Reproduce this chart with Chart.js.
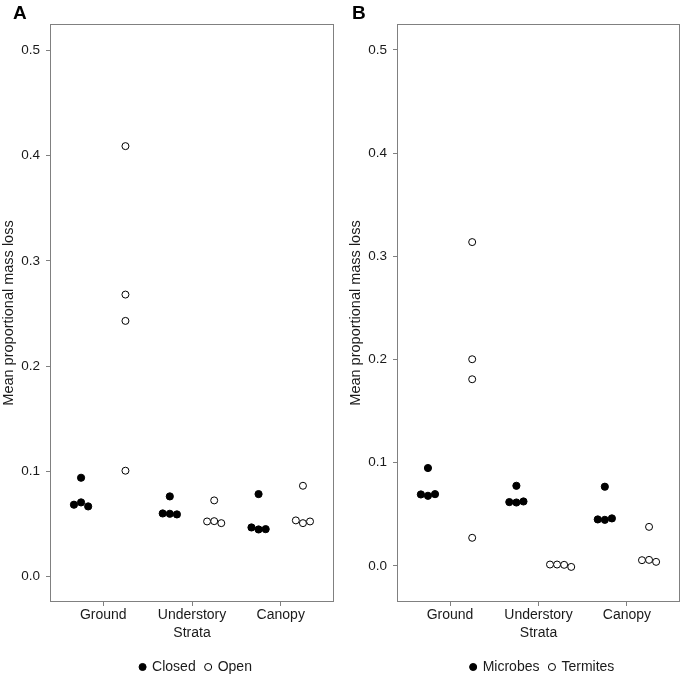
<!DOCTYPE html>
<html>
<head>
    <title>Mean proportional mass loss by strata</title>
    <script src="https://cdn.jsdelivr.net/npm/chart.js@4.4.1/dist/chart.umd.min.js"></script>
    <style>
        html, body { margin: 0; padding: 0; background: #fff; overflow: hidden; }
        .panel { position: absolute; top: 0; height: 684px; }
        #panelA { left: 0; width: 342px; }
        #panelB { left: 342px; width: 343px; }
    </style>
</head>
<body>
    <div class="panel" id="panelA"><canvas id="chartA"></canvas></div>
    <div class="panel" id="panelB"><canvas id="chartB"></canvas></div>

    <script>
        // Categories and tick labels
        const strata = ['Ground', 'Understory', 'Canopy'];
        const yTicks = [0, 0.1, 0.2, 0.3, 0.4, 0.5];

        // Panel A: canopy cover (values per stratum)
        const closedA = [
            [0.094, 0.0684, 0.0706, 0.0668],
            [0.0763, 0.0601, 0.0598, 0.0592],
            [0.0785, 0.0468, 0.0449, 0.0452]
        ];
        const openA = [
            [0.409, 0.268, 0.243, 0.1007],
            [0.0725, 0.0525, 0.0528, 0.0509],
            [0.0864, 0.0535, 0.0509, 0.0525]
        ];

        // Panel B: decomposer access
        const microbesB = [
            [0.0948, 0.0692, 0.0679, 0.0695],
            [0.0776, 0.0618, 0.0614, 0.0624],
            [0.0767, 0.045, 0.0446, 0.046]
        ];
        const termitesB = [
            [0.3137, 0.2002, 0.1808, 0.0272],
            [0.0013, 0.0013, 0.0010, -0.001],
            [0.0378, 0.0055, 0.0058, 0.0039]
        ];

        const FONT = "'Liberation Sans', Arial, Helvetica, sans-serif";
        const INK = '#1a1a1a';
        const DODGE = 0.25;
        const SPREAD = 0.08;

        // simple beeswarm: points close in y are spread side by side
        function swarm(groups, side) {
            const pts = [];
            groups.forEach((vals, gi) => {
                const centre = gi + 1 + side * DODGE;
                const used = vals.map(() => false);
                vals.forEach((v, i) => {
                    if (used[i]) return;
                    const cluster = [];
                    vals.forEach((w, j) => {
                        if (!used[j] && Math.abs(w - v) < 0.01) {
                            cluster.push(j);
                            used[j] = true;
                        }
                    });
                    cluster.forEach((j, k) => {
                        pts.push({ x: centre + (k - (cluster.length - 1) / 2) * SPREAD, y: vals[j] });
                    });
                });
            });
            return pts;
        }

        function makePanel(id, letter, opts) {
            const boxPlugin = {
                id: 'box' + letter,
                afterLayout(chart) {
                    // centre the legend under the plot box rather than the canvas
                    const l = chart.legend, a = chart.chartArea;
                    const shift = (a.left + a.right) / 2 + 4 - (l.left + l.right) / 2;
                    l.left += shift;
                    l.right += shift;
                },
                beforeDatasetsDraw(chart) {
                    const { ctx, chartArea: a } = chart;
                    ctx.save();
                    ctx.strokeStyle = '#808080';
                    ctx.lineWidth = 1;
                    ctx.strokeRect(a.left + 0.5, a.top + 0.5, a.right - a.left - 1, a.bottom - a.top - 1);
                    ctx.restore();
                },
                afterDraw(chart) {
                    const ctx = chart.ctx;
                    ctx.save();
                    ctx.fillStyle = '#000';
                    ctx.font = 'bold 19px ' + FONT;
                    ctx.textBaseline = 'alphabetic';
                    ctx.fillText(letter, opts.letterX, 18.5);
                    ctx.restore();
                }
            };

            new Chart(document.getElementById(id), {
                type: 'scatter',
                data: {
                    datasets: [
                        {
                            label: opts.names[0],
                            data: swarm(opts.filled, -1),
                            backgroundColor: '#000',
                            borderColor: '#000',
                            borderWidth: 1,
                            pointRadius: 3.6,
                            pointStyle: 'circle'
                        },
                        {
                            label: opts.names[1],
                            data: swarm(opts.hollow, 1),
                            backgroundColor: '#fff',
                            borderColor: '#000',
                            borderWidth: 1,
                            pointRadius: 3.5,
                            pointStyle: 'circle'
                        }
                    ]
                },
                options: {
                    responsive: true,
                    maintainAspectRatio: false,
                    animation: false,
                    layout: { padding: { top: 24, left: opts.padLeft, right: opts.padRight, bottom: 0 } },
                    plugins: {
                        tooltip: { enabled: false },
                        legend: {
                            position: 'bottom',
                            labels: {
                                usePointStyle: true,
                                boxHeight: 5,
                                boxWidth: 5,
                                padding: 10,
                                color: INK,
                                font: { family: FONT, size: 14 }
                            }
                        }
                    },
                    scales: {
                        x: {
                            type: 'linear',
                            min: 0.4,
                            max: 3.6,
                            afterBuildTicks: s => { s.ticks = strata.map((_, i) => ({ value: i + 1 })); },
                            afterFit: s => { s.height = 48; },
                            ticks: {
                                callback: v => strata[v - 1],
                                color: INK,
                                padding: 1,
                                maxRotation: 0,
                                font: { family: FONT, size: 14 }
                            },
                            grid: { display: true, drawOnChartArea: false, tickLength: 4, color: '#808080' },
                            border: { display: false },
                            title: {
                                display: true,
                                text: 'Strata',
                                color: INK,
                                padding: { top: 0, bottom: 8 },
                                font: { family: FONT, size: 14 }
                            }
                        },
                        y: {
                            min: opts.yMin,
                            max: 0.525,
                            afterBuildTicks: s => { s.ticks = yTicks.map(v => ({ value: v })); },
                            afterFit: s => { s.width = 50; },
                            ticks: {
                                callback: v => v.toFixed(1),
                                color: INK,
                                padding: 6,
                                font: { family: FONT, size: 13.5 }
                            },
                            grid: { display: true, drawOnChartArea: false, tickLength: 4, color: '#808080' },
                            border: { display: false },
                            title: {
                                display: true,
                                text: 'Mean proportional mass loss',
                                color: INK,
                                padding: 0,
                                font: { family: FONT, size: 14.5 }
                            }
                        }
                    }
                },
                plugins: [boxPlugin]
            });
        }

        makePanel('chartA', 'A', {
            names: ['Closed', 'Open'],
            filled: closedA,
            hollow: openA,
            yMin: -0.024,
            padLeft: 0,
            padRight: 8,
            letterX: 13
        });

        makePanel('chartB', 'B', {
            names: ['Microbes', 'Termites'],
            filled: microbesB,
            hollow: termitesB,
            yMin: -0.035,
            padLeft: 5,
            padRight: 2,
            letterX: 10
        });
    </script>
</body>
</html>
